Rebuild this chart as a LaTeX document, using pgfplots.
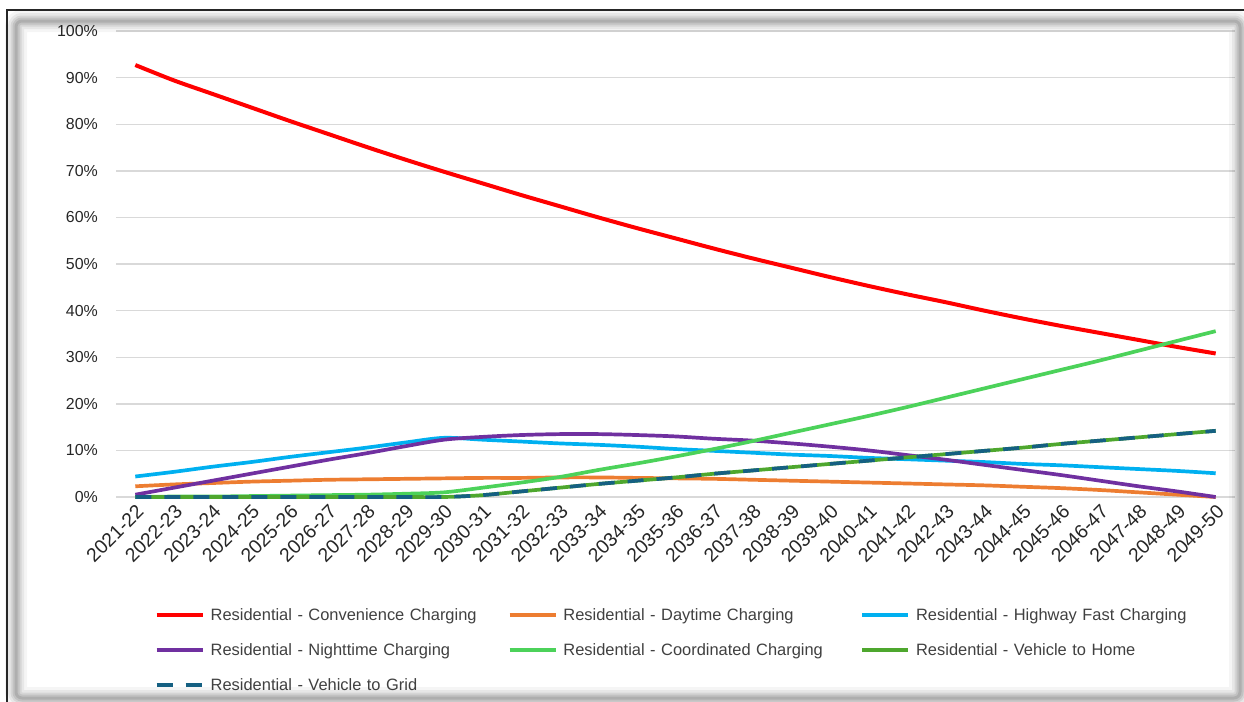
\documentclass[border=0pt]{standalone}
\usepackage{fontspec}
\setmainfont{Liberation Sans}
\usepackage{pgfplots}
\usepackage{pgfplotstable}
\pgfplotsset{compat=1.18}

\definecolor{cConv}{HTML}{FF0000}
\definecolor{cDay}{HTML}{ED7D31}
\definecolor{cHwy}{HTML}{00B0F0}
\definecolor{cNight}{HTML}{7030A0}
\definecolor{cCoord}{HTML}{4CD25A}
\definecolor{cVtH}{HTML}{4EA72E}
\definecolor{cVtG}{HTML}{156082}
\definecolor{gridgray}{HTML}{D9D9D9}
\definecolor{ticktxt}{HTML}{262626}
\definecolor{legtxt}{HTML}{404040}

% Share of residential EV charging by profile, per financial year (idx 0 = 2021-22)
\pgfplotstableread{
idx conv day  hwy  night coord v2h
0   92.7 2.3  4.4  0.5   0.0   0.0
1   89.4 2.7  5.4  2.0   0.1   0.0
2   86.5 3.0  6.5  3.5   0.1   0.0
3   83.6 3.3  7.5  5.0   0.2   0.0
4   80.7 3.5  8.6  6.5   0.3   0.0
5   77.9 3.7  9.6  8.0   0.4   0.0
6   75.1 3.8  10.6 9.4   0.5   0.0
7   72.4 3.9  11.7 10.9  0.7   0.0
8   69.8 4.0  12.7 12.3  1.0   0.0
9   67.3 4.1  12.3 12.9  2.0   0.4
10  64.8 4.1  11.9 13.3  3.1   1.2
11  62.4 4.2  11.5 13.5  4.3   2.0
12  60.0 4.2  11.2 13.5  5.8   2.8
13  57.7 4.1  10.8 13.3  7.2   3.5
14  55.5 4.0  10.3 13.0  8.7   4.2
15  53.3 3.9  9.9  12.5  10.3  5.0
16  51.2 3.7  9.5  12.1  12.0  5.7
17  49.2 3.5  9.1  11.5  13.8  6.4
18  47.2 3.3  8.8  10.8  15.6  7.1
19  45.3 3.1  8.4  10.0  17.4  7.8
20  43.5 2.9  8.1  9.0   19.3  8.5
21  41.8 2.7  7.8  8.0   21.3  9.2
22  40.0 2.5  7.5  6.9   23.3  9.9
23  38.3 2.2  7.1  5.8   25.3  10.6
24  36.7 1.9  6.8  4.7   27.3  11.4
25  35.2 1.5  6.4  3.5   29.3  12.1
26  33.7 1.0  6.0  2.3   31.4  12.8
27  32.2 0.5  5.6  1.2   33.5  13.5
28  30.8 0.0  5.1  0.0   35.6  14.2
}\chargingshare

\begin{document}
\begin{tikzpicture}
\useasboundingbox (0bp,0bp) rectangle (1244bp,-702bp);

\begin{axis}[
  at={(116bp,-497bp)}, anchor=south west,
  scale only axis, width=1119bp, height=466bp,
  xmin=-0.5, xmax=28.5, ymin=0, ymax=100,
  clip=false,
  axis line style={draw=none},
  major tick length=0pt,
  ymajorgrids,
  grid style={gridgray, line width=1.4bp},
  xtick={0,...,28},
  xticklabels={2021-22,2022-23,2023-24,2024-25,2025-26,2026-27,2027-28,2028-29,2029-30,2030-31,2031-32,2032-33,2033-34,2034-35,2035-36,2036-37,2037-38,2038-39,2039-40,2040-41,2041-42,2042-43,2043-44,2044-45,2045-46,2046-47,2047-48,2048-49,2049-50},
  ytick={0,10,...,100},
  yticklabels={0\%,10\%,20\%,30\%,40\%,50\%,60\%,70\%,80\%,90\%,100\%},
  tick label style={text=ticktxt, inner sep=0pt},
  yticklabel style={font=\fontsize{16}{19}\selectfont, anchor=east, xshift=-18bp},
  xticklabel style={font=\fontsize{19.5}{22}\selectfont, xshift=0bp, yshift=-6bp, rotate=45, anchor=north east},
  every axis plot/.append style={line width=3.7bp, line join=round},
  legend columns=3,
  legend cell align=left,
  legend image code/.code={\draw[#1] (0bp,0bp) -- (46bp,0bp);},
  legend style={
    at={(axis description cs:0.0346,-0.2354)}, anchor=north west,
    draw=none, fill=none, inner sep=0pt, outer sep=0pt,
    font=\fontsize{16.5}{19}\selectfont, text=legtxt,
    row sep=18bp,
    nodes={inner sep=0pt, text height=14bp, text depth=3bp, text width=286bp, align=left},
    /tikz/every odd column/.append style={column sep=6bp},
    /tikz/every even column/.append style={column sep=11bp},
  },
]
\addplot[cConv, line width=4bp, smooth] table[x=idx, y=conv] {\chargingshare};
\addlegendentry{Residential - Convenience Charging}
\addplot[cDay, smooth] table[x=idx, y=day] {\chargingshare};
\addlegendentry{Residential - Daytime Charging}
\addplot[cHwy, smooth] table[x=idx, y=hwy] {\chargingshare};
\addlegendentry{Residential - Highway Fast Charging}
\addplot[cNight, smooth] table[x=idx, y=night] {\chargingshare};
\addlegendentry{Residential - Nighttime Charging}
\addplot[cCoord, smooth] table[x=idx, y=coord] {\chargingshare};
\addlegendentry{Residential - Coordinated Charging}
\addplot[cVtH, smooth] table[x=idx, y=v2h] {\chargingshare};
\addlegendentry{Residential - Vehicle to Home}
\addplot[cVtG, smooth, dash pattern=on 16bp off 13bp] table[x=idx, y=v2h] {\chargingshare};
\addlegendentry{Residential - Vehicle to Grid}
\end{axis}

% chart frame with soft edge shadow
\foreach \w/\o in {22/0.04,16/0.06,11/0.08,7/0.09,3/0.1}
  \draw[line width=\w bp, black, opacity=\o, rounded corners=6bp]
    (16bp,-21bp) rectangle (1240bp,-698bp);
\draw[line width=1.5bp, black!85] (7bp,-702bp) -- (7bp,-10bp) -- (1250bp,-10bp);
\end{tikzpicture}
\end{document}
